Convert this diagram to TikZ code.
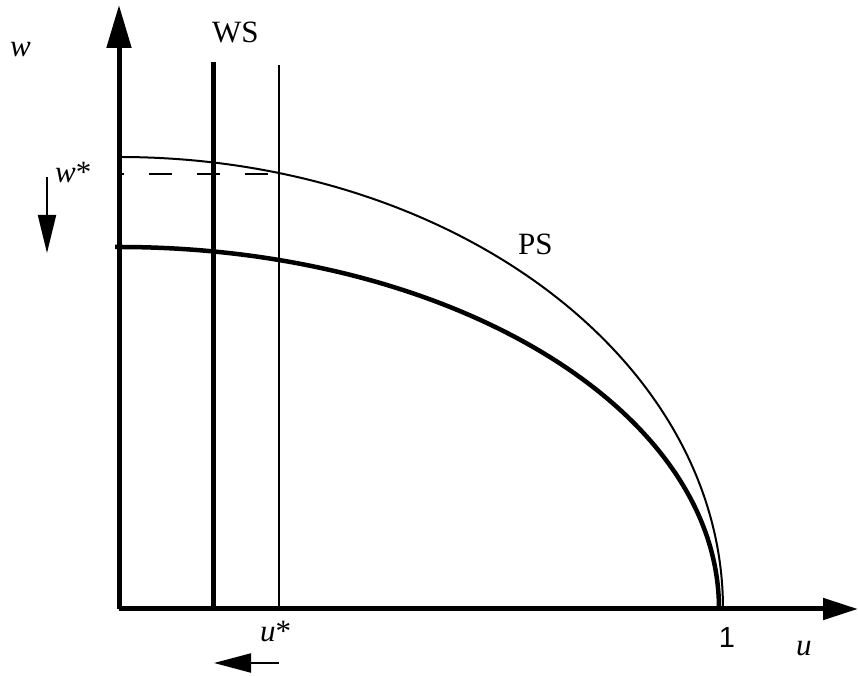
\documentclass[tikz,border=0pt]{standalone}
\usepackage{fontspec}
\setmainfont{Liberation Serif}
\newfontfamily\digitfont{Liberation Sans}
\usetikzlibrary{arrows.meta,positioning}
\tikzset{
  axis/.style={line width=5pt,-{Triangle[length=35pt,width=21pt]}},
  thinline/.style={line width=2pt},
  thickline/.style={line width=5pt},
  shiftarrow/.style={line width=2pt,-{Triangle[length=37pt,width=19pt]}},
  lab/.style={inner sep=0pt,anchor=base west},
}

\begin{document}
\begin{tikzpicture}[
  x=1pt,y=1pt,
  every node/.style={font=\fontsize{31}{36}\selectfont}
]
\useasboundingbox (-119,-67) rectangle (739,609);

\coordinate (O) at (0,0);

% axes
\draw[axis] (O) -- (739,0) coordinate (uend);
\draw[axis,-{Triangle[length=43pt,width=24pt]}] (O) -- (0,604) coordinate (wend);

% WS lines
\draw[thickline] (94,0) -- (94,547) coordinate (wstop);
\draw[thinline] (160,0) -- (160,544) coordinate (ustar);

% PS curves
\draw[thinline] (0,452) arc[start angle=90,end angle=0,x radius=604,y radius=452];
\draw[line width=4.5pt] (-4,362) -- (0,362) arc[start angle=90,end angle=0,x radius=600,y radius=362];

% w* level
\draw[line width=2.5pt,dash pattern=on 23pt off 25pt,dash phase=18pt] (0,435) -- (160,435);

% labels
\node[lab] (wlab) at (-109,552) {\textit{w}};
\node[lab] (wslab) at (93,566) {WS};
\node[lab] (pslab) at (399,354) {PS};
\node[lab] (wstar) at (-64,426) {\textit{w}*};
\node[lab] (ustarlab) at (141,-33) {\textit{u}*};
\node[inner sep=0pt,anchor=base] (one) at (608,-38) {\digitfont\fontsize{29}{34}\selectfont 1};
\node[lab] (ulab) at (677,-46) {\textit{u}};

% shifts
\coordinate (dtop) at (-72,432);
\coordinate (dbot) at (-72,356);
\draw[shiftarrow,-{Triangle[length=38pt,width=18pt]}] (dtop) -- (dbot);
\coordinate (lright) at (160,-54);
\coordinate (lleft) at (95,-54);
\draw[shiftarrow] (lright) -- (lleft);

\end{tikzpicture}
\end{document}
